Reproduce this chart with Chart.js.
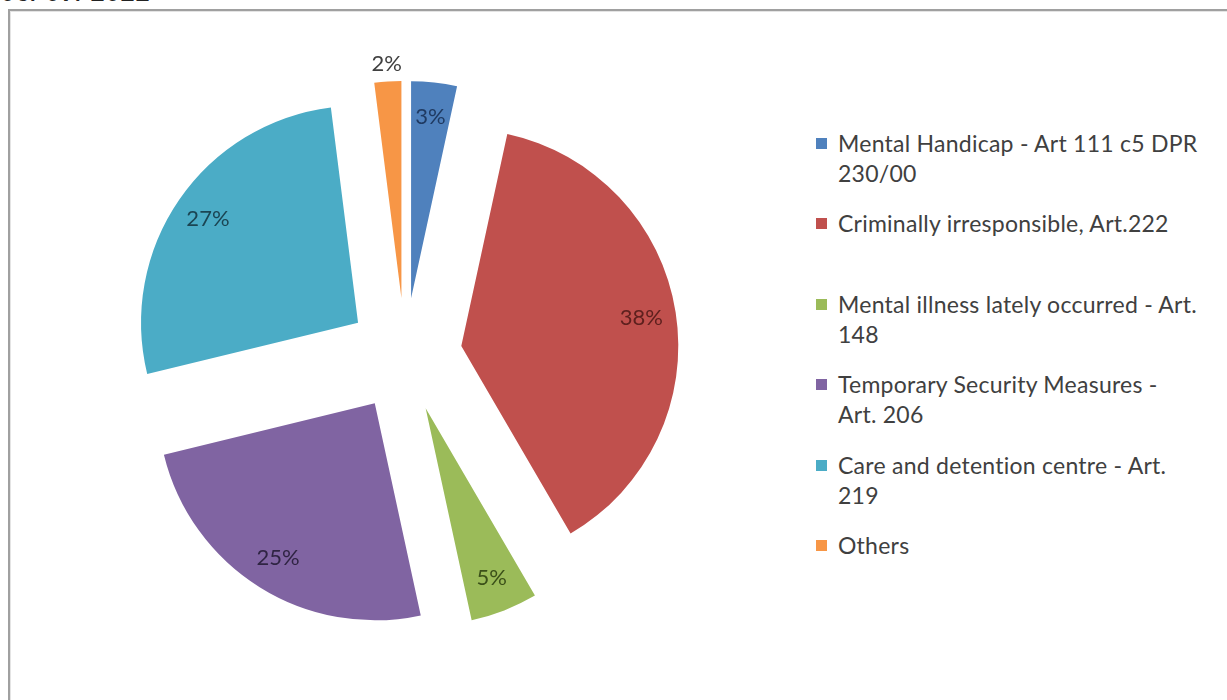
<!DOCTYPE html>
<html>
<head>
<meta charset="utf-8">
<script src="https://cdn.jsdelivr.net/npm/chart.js@4.4.1/dist/chart.umd.min.js"></script>
<style>
  html, body { margin: 0; padding: 0; background: #fff; overflow: hidden; }
  body { width: 1227px; height: 700px; position: relative; }
  .stamp { position: absolute; left: 0; top: -18.5px; font: bold 25px "Liberation Mono", monospace; line-height: 1; color: #222; }
  .frame { position: absolute; left: 8px; top: 9px; width: 1240px; height: 720px; box-sizing: border-box;
           border-left: 2px solid #a0a0a0; border-top: 2px solid #a0a0a0; box-shadow: inset 1px 1px 0 #e4e4e4; }
  #wrap { position: absolute; left: 0; top: 0; width: 810px; height: 700px; }
  #legend { position: absolute; left: 816px; top: 128px; font-family: Lato, "Open Sans", sans-serif; font-size: 23px; letter-spacing: 0.25px; color: #404040; }
  .item { height: 80.4px; position: relative; padding-left: 22px; line-height: 30px; white-space: nowrap; }
  .swatch { position: absolute; left: 0; top: 10px; width: 11px; height: 11px; }
</style>
</head>
<body>
<div class="stamp">06/07/2022</div>
<div class="frame"></div>
<div id="wrap"><canvas id="pieChart"></canvas></div>
<div id="legend"></div>
<script>
  // categories, one entry per line as the legend wraps them
  const categoryLines = [
    ["Mental Handicap - Art 111 c5 DPR", "230/00"],
    ["Criminally irresponsible, Art.222"],
    ["Mental illness lately occurred - Art.", "148"],
    ["Temporary Security Measures -", "Art. 206"],
    ["Care and detention centre - Art.", "219"],
    ["Others"]
  ];
  // share of each category (percent)
  const shareValues = [3.4, 38.2, 5.0, 24.6, 26.8, 2.0];

  const sliceColors = ["#4f81bd", "#c0504d", "#9bbb59", "#8064a2", "#4bacc6", "#f79646"];
  const labelColors = ["#1f3a62", "#5e201e", "#3b5019", "#2f2443", "#1b4553", "#404040"];
  const explodeDistance = 57;

  // push every slice away from the centre along its mid angle
  const explodePlugin = {
    id: "explode",
    afterDatasetUpdate(chart, args) {
      args.meta.data.forEach((arc) => {
        const mid = (arc.startAngle + arc.endAngle) / 2;
        arc.x += Math.cos(mid) * explodeDistance;
        arc.y += Math.sin(mid) * explodeDistance;
      });
    }
  };

  const sliceLabelPlugin = {
    id: "sliceLabels",
    afterDatasetsDraw(chart) {
      const ctx = chart.ctx;
      const meta = chart.getDatasetMeta(0);
      const total = shareValues.reduce((a, b) => a + b, 0);
      ctx.save();
      ctx.font = "22px Lato, 'Open Sans', sans-serif";
      ctx.textAlign = "center";
      ctx.textBaseline = "middle";
      meta.data.forEach((arc, i) => {
        const share = shareValues[i] / total;
        const mid = (arc.startAngle + arc.endAngle) / 2;
        const outside = share < 0.025;
        const r = arc.outerRadius * (outside ? 1.08 : 0.84);
        ctx.fillStyle = outside ? "#404040" : labelColors[i];
        ctx.fillText(Math.round(share * 100) + "%", arc.x + Math.cos(mid) * r, arc.y + Math.sin(mid) * r);
      });
      ctx.restore();
    }
  };

  const chart = new Chart(document.getElementById("pieChart"), {
    type: "pie",
    data: {
      labels: categoryLines.map((lines) => lines.join(" ")),
      datasets: [{
        data: shareValues,
        backgroundColor: sliceColors,
        borderWidth: 0
      }]
    },
    options: {
      responsive: true,
      maintainAspectRatio: false,
      animation: false,
      events: [],
      radius: 217,
      layout: { padding: { top: 10 } },
      plugins: { legend: { display: false }, tooltip: { enabled: false } }
    },
    plugins: [explodePlugin, sliceLabelPlugin]
  });

  // legend built as html so the long names can wrap like the original
  const legend = document.getElementById("legend");
  categoryLines.forEach((lines, i) => {
    const item = document.createElement("div");
    item.className = "item";
    const swatch = document.createElement("span");
    swatch.className = "swatch";
    swatch.style.background = chart.data.datasets[0].backgroundColor[i];
    item.appendChild(swatch);
    lines.forEach((line, j) => {
      if (j > 0) item.appendChild(document.createElement("br"));
      item.appendChild(document.createTextNode(line));
    });
    legend.appendChild(item);
  });
</script>
</body>
</html>
